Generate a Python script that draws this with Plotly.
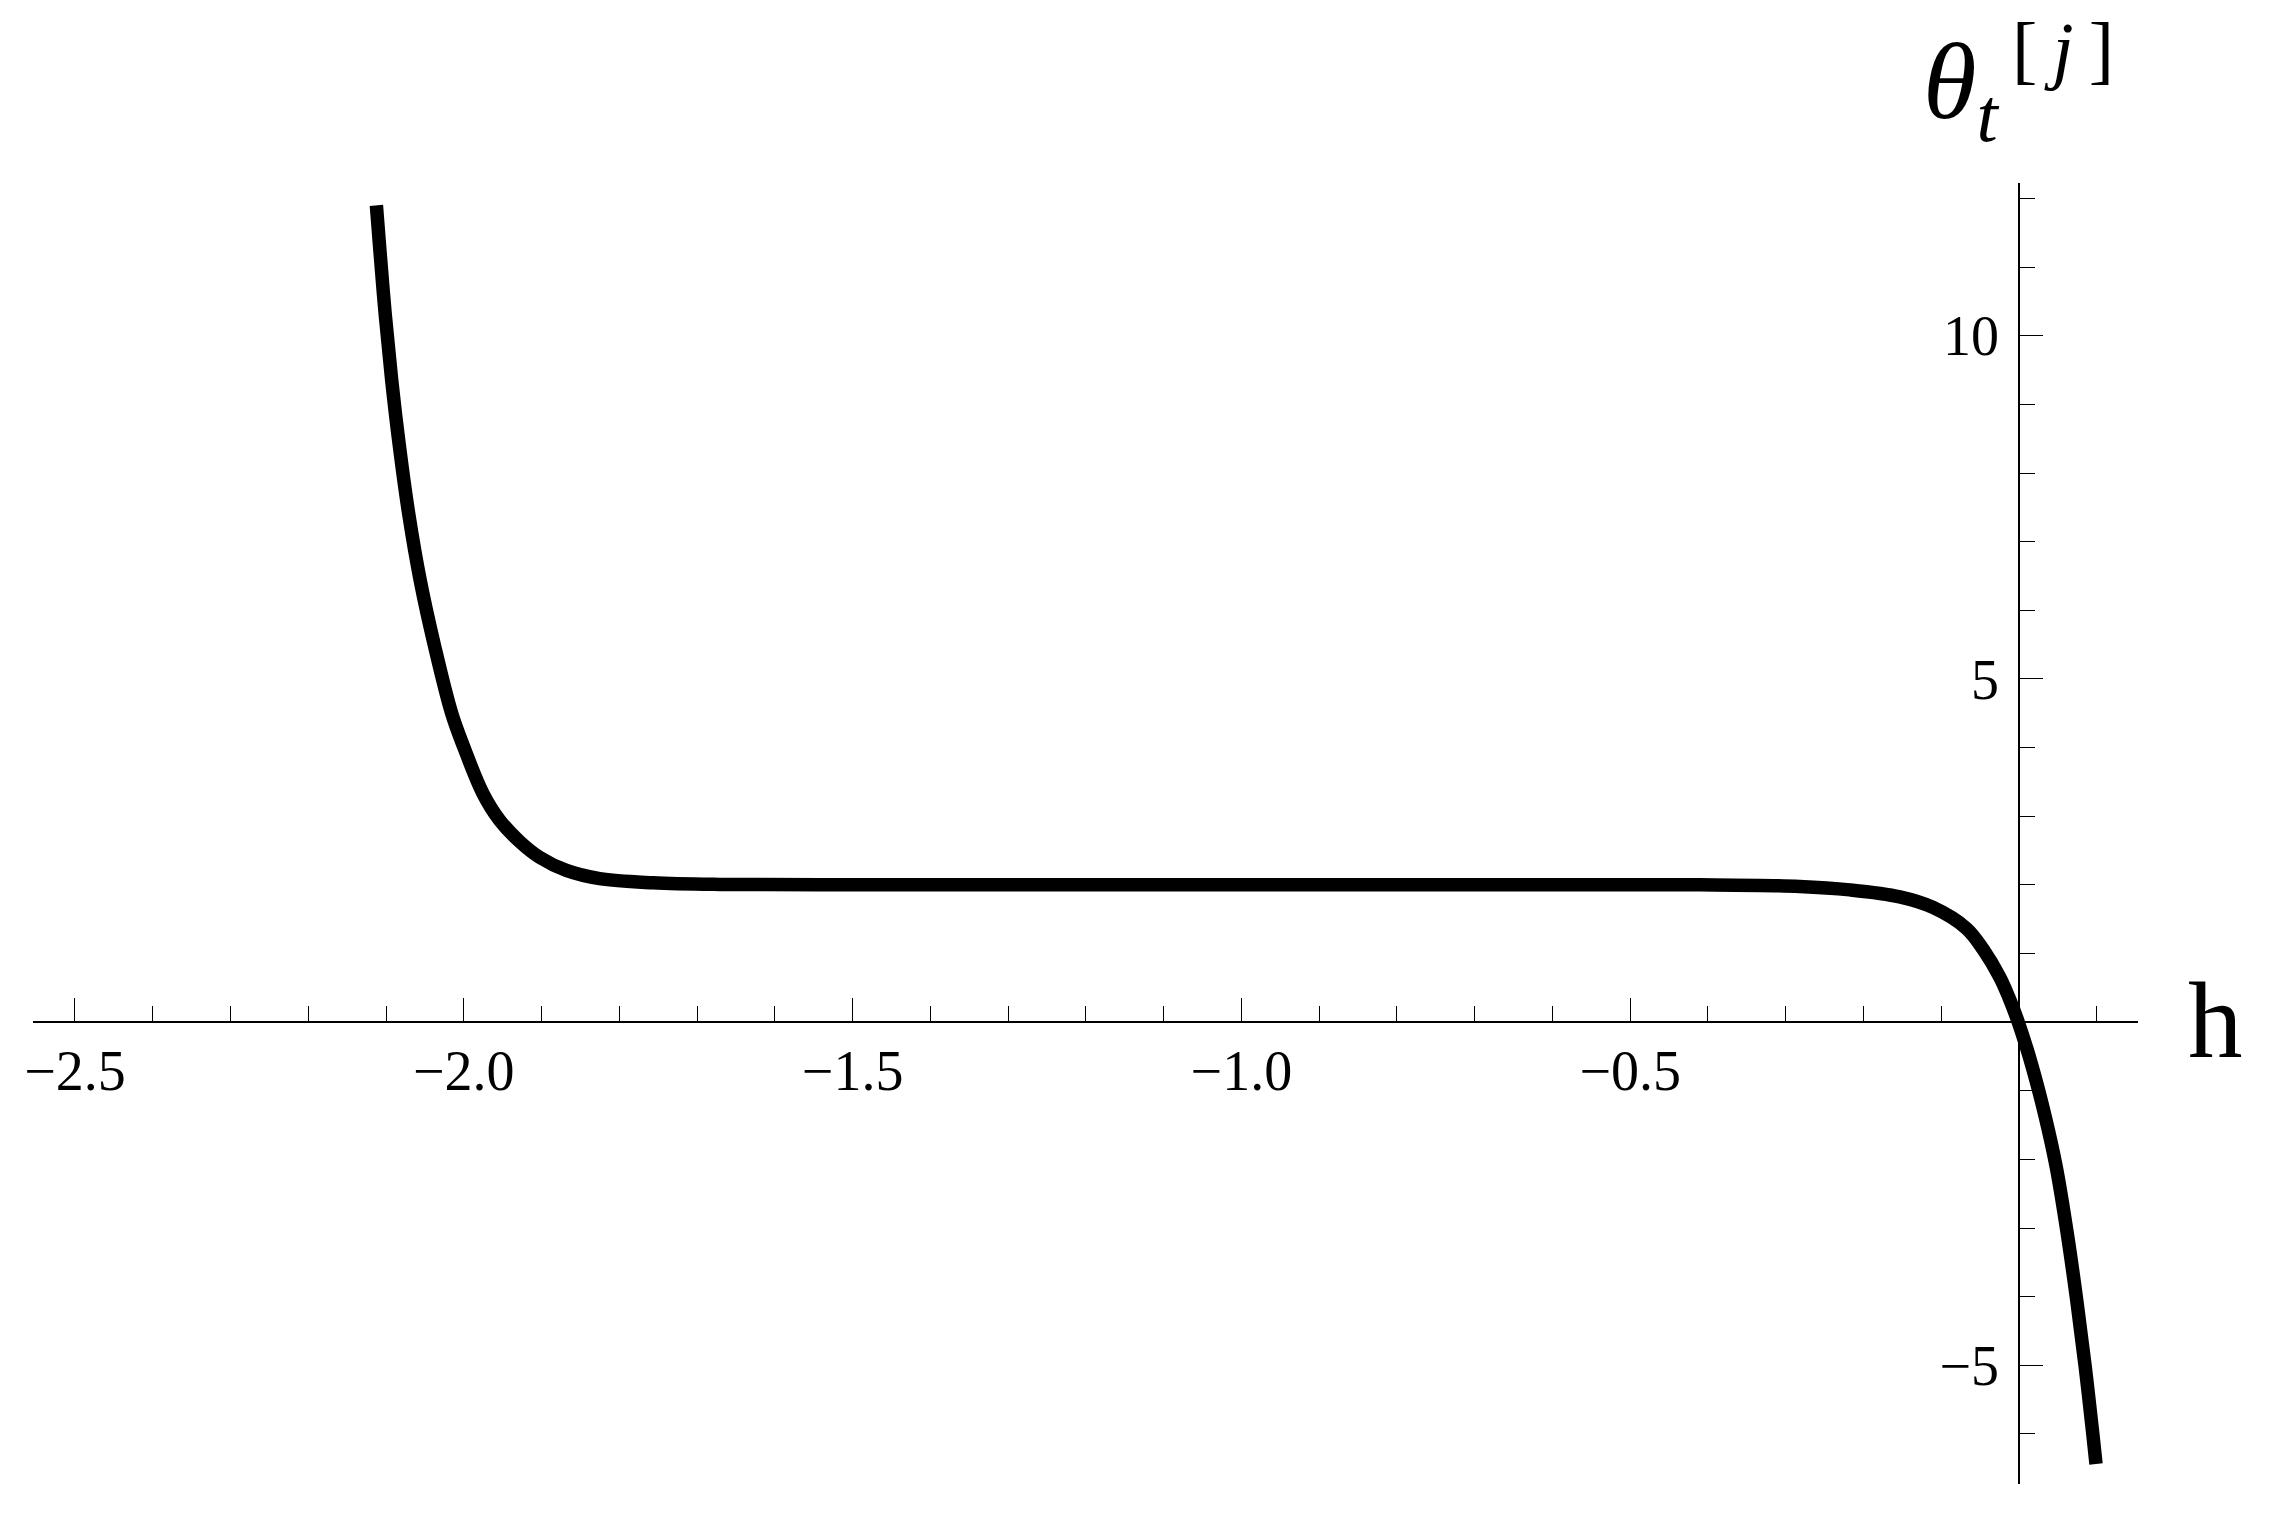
import plotly.graph_objects as go

# curve
h = [-2.1124, -2.1082, -2.1011, -2.0927, -2.0827, -2.0709, -2.0561, -2.0374, -2.0156,
     -2.0001, -1.9753, -1.9538, -1.9281, -1.9024, -1.8681, -1.8252, -1.7567, -1.6709,
     -1.5423, -1.3, -1.0, -0.7, -0.4106, -0.2821, -0.2177, -0.1534, -0.1106, -0.0676,
     -0.0463, -0.0248, -0.0132, -0.0010, 0.0170, 0.0337, 0.0478, 0.0620, 0.0742,
     0.0851, 0.0948, 0.0990]
theta = [11.90, 11.29, 10.32, 9.35, 8.38, 7.41, 6.44, 5.47, 4.50,
         4.01, 3.33, 2.94, 2.63, 2.40, 2.21, 2.09, 2.03, 2.006,
         2.0, 2.0, 2.0, 2.0, 2.0, 1.977, 1.927, 1.825, 1.671, 1.365,
         1.063, 0.656, 0.364, 0.0, -0.651, -1.379, -2.108, -3.078, -4.050,
         -5.021, -5.991, -6.438]

x_ticks = [-2.5, -2.0, -1.5, -1.0, -0.5]
x_labels = ["\u22122.5", "\u22122.0", "\u22121.5", "\u22121.0", "\u22120.5"]
x_minor = [-2.4, -2.3, -2.2, -2.1, -1.9, -1.8, -1.7, -1.6, -1.4, -1.3, -1.2, -1.1,
           -0.9, -0.8, -0.7, -0.6, -0.4, -0.3, -0.2, -0.1, 0.1]
y_ticks = [-5, 5, 10]
y_labels = ["\u22125", "5", "10"]
y_minor = [-6, -4, -3, -2, -1, 1, 2, 3, 4, 6, 7, 8, 9, 11, 12]

xmin, xmax = -2.554, 0.153
ymin, ymax = -6.73, 12.226

font = "Liberation Serif"

fig = go.Figure()
fig.add_trace(go.Scatter(x=h, y=theta, mode="lines",
                         line=dict(color="black", width=13.5, shape="spline", smoothing=1.0,
                                   simplify=False),
                         showlegend=False, hoverinfo="skip"))

axis_common = dict(showgrid=False, zeroline=False, showline=True, linecolor="black",
                   linewidth=1.5, ticks="inside", ticklen=23, tickwidth=1.2,
                   tickcolor="black", tickmode="array",
                   tickfont=dict(family=font, size=56, color="black"))

fig.update_xaxes(range=[xmin, xmax], anchor="free", position=(0 - ymin) / (ymax - ymin),
                 side="bottom", tickvals=x_ticks, ticktext=x_labels,
                 minor=dict(tickvals=x_minor, ticks="inside", ticklen=15, tickwidth=1.2,
                            tickcolor="black"),
                 **axis_common)
fig.update_yaxes(range=[ymin, ymax], anchor="free", position=(0 - xmin) / (xmax - xmin),
                 side="left", tickvals=y_ticks, ticktext=y_labels, ticklabelstandoff=8,
                 minor=dict(tickvals=y_minor, ticks="inside", ticklen=15, tickwidth=1.2,
                            tickcolor="black"),
                 **axis_common)

# axis labels, placed in paper units outside the plotting range
fig.add_annotation(x=1.0228, y=0.3559, xref="paper", yref="paper", text="h", showarrow=False,
                   xanchor="left", yanchor="middle",
                   font=dict(family=font, size=109, color="black"))
fig.add_annotation(x=0.897, y=1.0715, xref="paper", yref="paper",
                   text="<i>\u03b8</i><sub><i>t</i></sub>",
                   showarrow=False, xanchor="left", yanchor="middle",
                   font=dict(family=font, size=109, color="black"))
fig.add_annotation(x=0.9392, y=1.1031, xref="paper", yref="paper",
                   text="[\u2009<i>j</i>\u2009]",
                   showarrow=False, xanchor="left", yanchor="middle",
                   font=dict(family=font, size=76, color="black"))

# the page body keeps its default 8px margin, so the figure is a little smaller
fig.update_layout(width=2254, height=1512, paper_bgcolor="white", plot_bgcolor="white",
                  margin=dict(l=25, r=124, t=175, b=36))

fig.write_html("out.html")
